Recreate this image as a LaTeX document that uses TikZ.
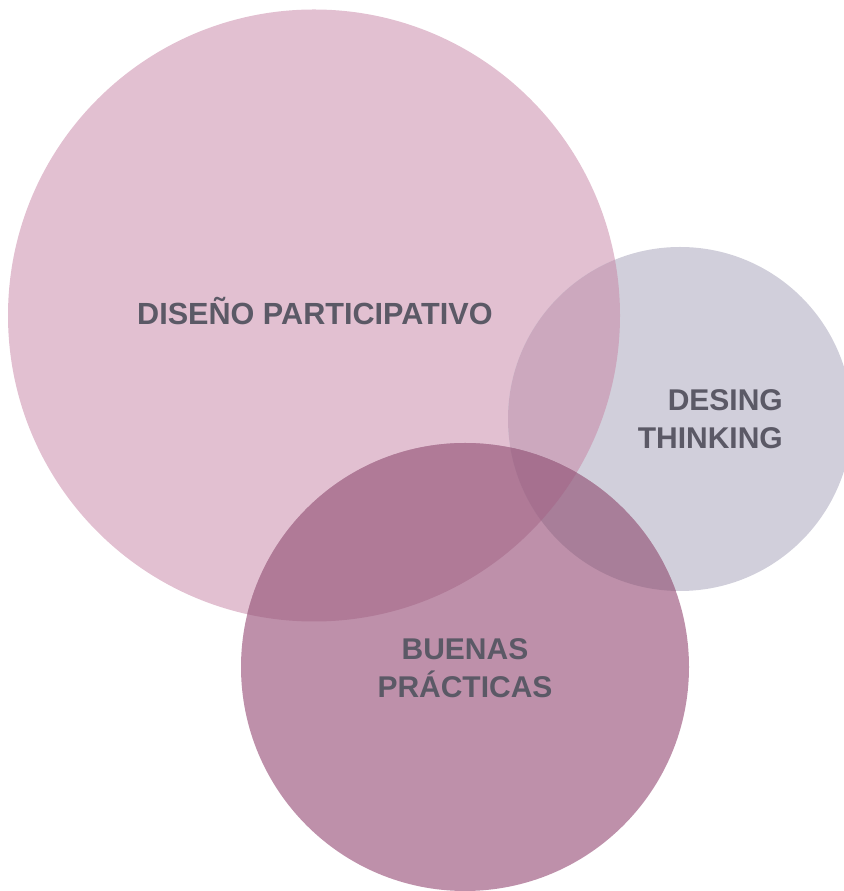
\documentclass[tikz,border=0pt]{standalone}
\usepackage{fontspec}
\setmainfont{Liberation Sans}
\usepackage{tikz}
\definecolor{rosa}{HTML}{E2C0D1}
\definecolor{gris}{HTML}{D1CFDB}
\definecolor{malva}{HTML}{BE90AA}
\definecolor{rosagris}{HTML}{CCA8BE}
\definecolor{rosamalva}{HTML}{B07A97}
\definecolor{grismalva}{HTML}{A87E99}
\definecolor{centro}{HTML}{A6708F}
\definecolor{letra}{HTML}{5B5966}

\begin{document}
\begin{tikzpicture}[x=1pt,y=1pt,every node/.style={font=\bfseries\fontsize{30}{38}\selectfont,text=letra,inner sep=0pt},dp/.style={radius=306},dt/.style={radius=172},bp/.style={radius=224}]
\useasboundingbox (0,0) rectangle (843,891);
\coordinate (cd) at (314,575.5);
\coordinate (ct) at (680,472);
\coordinate (cb) at (465,224);
\fill[rosa] (cd) circle[dp];
\fill[gris] (ct) circle[dt];
\fill[malva] (cb) circle[bp];
\begin{scope}
\clip (cd) circle[dp];
\fill[rosagris] (ct) circle[dt];
\fill[rosamalva] (cb) circle[bp];
\end{scope}
\begin{scope}
\clip (ct) circle[dt];
\fill[grismalva] (cb) circle[bp];
\clip (cb) circle[bp];
\fill[centro] (cd) circle[dp];
\end{scope}
\node[anchor=base west,font=\bfseries\fontsize{30.6}{38}\selectfont] (d) at (137,566) {DISEÑO PARTICIPATIVO};
\node[anchor=north east,align=right] (t) at (783,502) {DESING\\THINKING};
\node[anchor=north,align=center] (b) at (465,253) {BUENAS\\PRÁCTICAS};
\end{tikzpicture}
\end{document}
